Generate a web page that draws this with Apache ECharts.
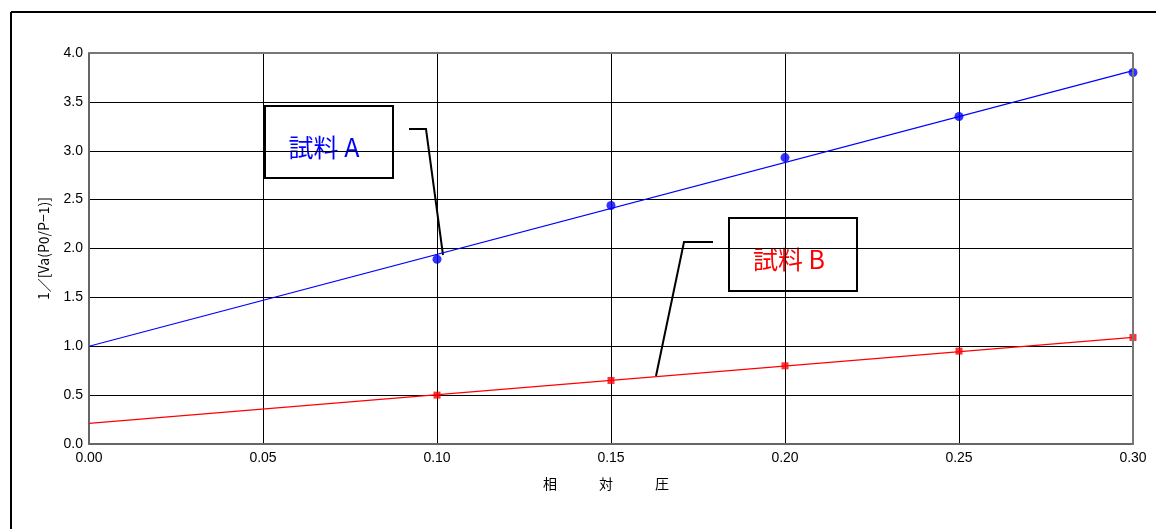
<!DOCTYPE html>
<html><head><meta charset="utf-8">
<script src="https://cdn.jsdelivr.net/npm/echarts@6/dist/echarts.min.js"></script>
<style>html,body{margin:0;padding:0;background:#fff}#c{width:1156px;height:529px}</style>
</head><body><div id="c"></div>
<script>
const xValues = [0.10, 0.15, 0.20, 0.25, 0.30];
const sampleA = [1.89, 2.44, 2.93, 3.35, 3.80];
const sampleB = [0.50, 0.65, 0.80, 0.95, 1.09];
const fitX = [0.00, 0.30];
const fitA = [1.00, 3.82];
const fitB = [0.21, 1.09];
const labelA = '試料 A';
const labelB = '試料 B';
const xName = '相　　　対　　　圧';
const yName = '1／[Va(P0/P−1)]';

const chart = echarts.init(document.getElementById('c'), null, {renderer: 'canvas'});
const pairs = (xs, ys) => xs.map((x, i) => [x, ys[i]]);
const tickFont = {fontFamily: 'Liberation Sans, Arial, sans-serif', fontSize: 14, color: '#000'};
chart.setOption({
  animation: false,
  backgroundColor: '#fff',
  grid: {left: 89, right: 23, top: 53, bottom: 85, containLabel: false},
  xAxis: {
    type: 'value', min: 0, max: 0.3, interval: 0.05,
    name: xName, nameLocation: 'middle', nameGap: 33,
    nameTextStyle: {fontFamily: 'Noto Sans CJK JP', fontSize: 14, color: '#000', padding: [0, 10, 0, 0]},
    axisLine: {show: true, onZero: false, lineStyle: {color: '#666', width: 2}},
    axisTick: {show: false},
    axisLabel: Object.assign({margin: 7, formatter: v => v.toFixed(2)}, tickFont),
    splitLine: {show: true, lineStyle: {color: '#000', width: 1}}
  },
  yAxis: {
    type: 'value', min: 0, max: 4, interval: 0.5,
    name: yName, nameLocation: 'middle', nameGap: 38, nameRotate: 90,
    nameTextStyle: {fontFamily: 'Noto Sans CJK JP', fontSize: 14, color: '#000'},
    axisLine: {show: true, lineStyle: {color: '#666', width: 2}},
    axisTick: {show: false},
    axisLabel: Object.assign({margin: 6, formatter: v => v.toFixed(1)}, tickFont),
    splitLine: {show: true, lineStyle: {color: '#000', width: 1}}
  },
  series: [
    {type: 'line', data: pairs(fitX, fitA), symbol: 'none', lineStyle: {color: '#0000ff', width: 1.2}, z: 3},
    {type: 'line', data: pairs(fitX, fitB), symbol: 'none', lineStyle: {color: '#ff0000', width: 1.2}, z: 3},
    {type: 'scatter', data: pairs(xValues, sampleA), symbol: 'circle', symbolSize: 9, itemStyle: {color: '#0000ff'}, z: 4},
    {type: 'scatter', data: pairs(xValues, sampleB), symbol: 'rect', symbolSize: 7, itemStyle: {color: '#ff0000'}, z: 4}
  ],
  graphic: [
    {type: 'line', shape: {x1: 11, y1: 12, x2: 1156, y2: 12}, style: {stroke: '#000', lineWidth: 2}},
    {type: 'line', shape: {x1: 11, y1: 12, x2: 11, y2: 529}, style: {stroke: '#000', lineWidth: 2}},
    {type: 'line', shape: {x1: 89, y1: 53, x2: 1133, y2: 53}, style: {stroke: '#777', lineWidth: 2}, z: 5},
    {type: 'line', shape: {x1: 1133, y1: 53, x2: 1133, y2: 445}, style: {stroke: '#777', lineWidth: 2}, z: 5},
    {type: 'group', z: 10, children: [
      {type: 'rect', shape: {x: 265, y: 106, width: 128, height: 72}, style: {fill: '#fff', stroke: '#000', lineWidth: 2}},
      {type: 'text', x: 324, y: 147, style: {text: labelA, fill: '#0000ff', font: '25px "Noto Sans CJK JP"', align: 'center', verticalAlign: 'middle'}},
      {type: 'polyline', shape: {points: [[409, 129], [426, 129], [443, 255]]}, style: {stroke: '#000', lineWidth: 2, fill: null}},
      {type: 'rect', shape: {x: 729, y: 218, width: 128, height: 73}, style: {fill: '#fff', stroke: '#000', lineWidth: 2}},
      {type: 'text', x: 789, y: 259, style: {text: labelB, fill: '#ff0000', font: '25px "Noto Sans CJK JP"', align: 'center', verticalAlign: 'middle'}},
      {type: 'polyline', shape: {points: [[713, 242], [684, 242], [656, 376]]}, style: {stroke: '#000', lineWidth: 2, fill: null}}
    ]}
  ]
});
</script></body></html>
